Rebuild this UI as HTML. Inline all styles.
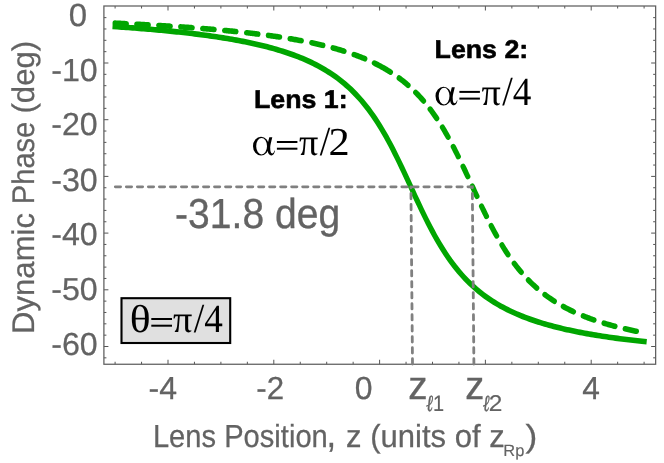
<!DOCTYPE html>
<html><head><meta charset="utf-8"><title>Dynamic Phase vs Lens Position</title>
<style>
html,body{margin:0;padding:0;background:#fff;}
body{width:664px;height:463px;overflow:hidden;font-family:"Liberation Sans",sans-serif;}
svg{display:block;will-change:transform;}
text{font-kerning:none;text-rendering:geometricPrecision;}
</style></head>
<body>
<svg width="664" height="463" viewBox="0 0 664 463">
<rect x="0" y="0" width="664" height="463" fill="#ffffff"/>
<path d="M115.10,364.25 v-2.5 M115.10,6.0 v2.5 M141.55,364.25 v-2.5 M141.55,6.0 v2.5 M168.00,364.25 v-4.5 M168.00,6.0 v4.5 M194.45,364.25 v-2.5 M194.45,6.0 v2.5 M220.90,364.25 v-2.5 M220.90,6.0 v2.5 M247.35,364.25 v-2.5 M247.35,6.0 v2.5 M273.80,364.25 v-4.5 M273.80,6.0 v4.5 M300.25,364.25 v-2.5 M300.25,6.0 v2.5 M326.70,364.25 v-2.5 M326.70,6.0 v2.5 M353.15,364.25 v-2.5 M353.15,6.0 v2.5 M379.60,364.25 v-4.5 M379.60,6.0 v4.5 M406.05,364.25 v-2.5 M406.05,6.0 v2.5 M432.50,364.25 v-2.5 M432.50,6.0 v2.5 M458.95,364.25 v-2.5 M458.95,6.0 v2.5 M485.40,364.25 v-4.5 M485.40,6.0 v4.5 M511.85,364.25 v-2.5 M511.85,6.0 v2.5 M538.30,364.25 v-2.5 M538.30,6.0 v2.5 M564.75,364.25 v-2.5 M564.75,6.0 v2.5 M591.20,364.25 v-4.5 M591.20,6.0 v4.5 M617.65,364.25 v-2.5 M617.65,6.0 v2.5 M644.10,364.25 v-2.5 M644.10,6.0 v2.5 M103.9,17.64 h2.5 M655.65,17.64 h-2.5 M103.9,28.98 h2.5 M655.65,28.98 h-2.5 M103.9,40.32 h2.5 M655.65,40.32 h-2.5 M103.9,51.66 h2.5 M655.65,51.66 h-2.5 M103.9,63.00 h4.5 M655.65,63.00 h-4.5 M103.9,74.34 h2.5 M655.65,74.34 h-2.5 M103.9,85.68 h2.5 M655.65,85.68 h-2.5 M103.9,97.02 h2.5 M655.65,97.02 h-2.5 M103.9,108.36 h2.5 M655.65,108.36 h-2.5 M103.9,119.70 h4.5 M655.65,119.70 h-4.5 M103.9,131.04 h2.5 M655.65,131.04 h-2.5 M103.9,142.38 h2.5 M655.65,142.38 h-2.5 M103.9,153.72 h2.5 M655.65,153.72 h-2.5 M103.9,165.06 h2.5 M655.65,165.06 h-2.5 M103.9,176.40 h4.5 M655.65,176.40 h-4.5 M103.9,187.74 h2.5 M655.65,187.74 h-2.5 M103.9,199.08 h2.5 M655.65,199.08 h-2.5 M103.9,210.42 h2.5 M655.65,210.42 h-2.5 M103.9,221.76 h2.5 M655.65,221.76 h-2.5 M103.9,233.10 h4.5 M655.65,233.10 h-4.5 M103.9,244.44 h2.5 M655.65,244.44 h-2.5 M103.9,255.78 h2.5 M655.65,255.78 h-2.5 M103.9,267.12 h2.5 M655.65,267.12 h-2.5 M103.9,278.46 h2.5 M655.65,278.46 h-2.5 M103.9,289.80 h4.5 M655.65,289.80 h-4.5 M103.9,301.14 h2.5 M655.65,301.14 h-2.5 M103.9,312.48 h2.5 M655.65,312.48 h-2.5 M103.9,323.82 h2.5 M655.65,323.82 h-2.5 M103.9,335.16 h2.5 M655.65,335.16 h-2.5 M103.9,346.50 h4.5 M655.65,346.50 h-4.5 M103.9,357.84 h2.5 M655.65,357.84 h-2.5" stroke="#4c4c4c" stroke-width="0.95" fill="none"/>
<rect x="103.9" y="6.0" width="551.75" height="358.25" fill="none" stroke="#5e5e5e" stroke-width="1.25"/>
<g transform="scale(1,1.08)">
<path d="M115.10,21.46 L116.16,21.51 L117.22,21.55 L118.27,21.60 L119.33,21.65 L120.39,21.69 L121.45,21.74 L122.51,21.79 L123.56,21.83 L124.62,21.88 L125.68,21.93 L126.34,21.96 M136.79,22.45 L137.85,22.51 L138.91,22.56 L139.96,22.61 L141.02,22.66 L142.08,22.72 L143.14,22.77 L144.20,22.82 L145.25,22.88 L146.31,22.93 L147.37,22.99 L148.29,23.03 M158.74,23.60 L159.80,23.66 L160.86,23.72 L161.92,23.78 L162.97,23.84 L164.03,23.90 L165.09,23.96 L166.15,24.02 L167.21,24.08 L168.26,24.14 L169.32,24.20 L170.25,24.26 M180.70,24.91 L181.75,24.97 L182.81,25.04 L183.87,25.11 L184.93,25.18 L185.99,25.25 L187.04,25.32 L188.10,25.39 L189.16,25.46 L190.22,25.53 L191.28,25.61 L192.20,25.67 M202.65,26.42 L203.71,26.50 L204.77,26.58 L205.82,26.66 L206.88,26.74 L207.94,26.82 L209.00,26.90 L210.06,26.99 L211.11,27.07 L212.17,27.15 L213.23,27.24 L214.16,27.31 M224.60,28.19 L225.66,28.29 L226.72,28.38 L227.78,28.47 L228.84,28.57 L229.89,28.67 L230.95,28.76 L232.01,28.86 L233.07,28.96 L234.13,29.06 L235.18,29.16 L235.98,29.23 M246.56,30.29 L247.61,30.40 L248.67,30.52 L249.73,30.63 L250.79,30.74 L251.85,30.86 L252.90,30.97 L253.96,31.09 L255.02,31.21 L256.08,31.33 L257.14,31.45 L257.93,31.54 M268.38,32.80 L269.44,32.94 L270.49,33.07 L271.55,33.21 L272.61,33.35 L273.67,33.49 L274.73,33.63 L275.78,33.77 L276.84,33.92 L277.90,34.06 L278.96,34.21 L279.62,34.30 M290.07,35.85 L291.12,36.01 L292.18,36.18 L293.24,36.35 L294.30,36.52 L295.36,36.70 L296.41,36.87 L297.47,37.05 L298.53,37.23 L299.59,37.41 L300.65,37.59 L301.31,37.71 M311.76,39.65 L312.81,39.85 L313.87,40.07 L314.93,40.28 L315.99,40.50 L317.05,40.72 L318.10,40.94 L319.16,41.16 L320.22,41.39 L321.28,41.62 L322.34,41.85 L322.86,41.97 M333.05,44.39 L334.11,44.66 L335.16,44.94 L336.22,45.21 L337.28,45.49 L338.34,45.78 L339.40,46.06 L340.45,46.36 L341.51,46.65 L342.57,46.95 L343.63,47.26 L344.02,47.37 M354.08,50.51 L355.13,50.87 L356.19,51.23 L357.25,51.60 L358.31,51.97 L359.37,52.35 L360.42,52.73 L361.48,53.12 L362.54,53.52 L363.60,53.92 L364.66,54.33 L364.79,54.38 M374.31,58.39 L375.37,58.87 L376.43,59.36 L377.48,59.86 L378.54,60.37 L379.60,60.88 L380.66,61.41 L381.72,61.94 L382.77,62.49 L383.83,63.04 L384.89,63.60 L385.95,64.18 L387.01,64.76 L388.06,65.36 L389.12,65.96 L390.18,66.58 L390.44,66.73 M399.17,72.30 L400.23,73.03 L401.29,73.78 L402.35,74.55 L403.41,75.32 L404.46,76.12 L405.52,76.93 L406.58,77.75 L407.64,78.59 L408.03,78.91 M415.70,85.58 L416.76,86.58 L417.82,87.60 L418.88,88.64 L419.94,89.70 L420.99,90.78 L422.05,91.88 L423.11,93.01 L423.51,93.44 M430.12,101.05 L431.18,102.36 L432.24,103.70 L433.29,105.06 L434.35,106.44 L435.41,107.86 L436.47,109.29 L436.73,109.66 M442.42,117.90 L443.48,119.52 L444.53,121.17 L445.59,122.85 L446.65,124.55 L447.71,126.28 L448.11,126.94 M453.26,135.79 L454.32,137.69 L455.38,139.60 L456.44,141.54 L457.50,143.49 L458.29,144.98 M463.05,154.09 L464.11,156.16 L465.17,158.24 L466.22,160.33 L467.28,162.43 L467.81,163.48 M472.31,172.50 L473.37,174.63 L474.42,176.75 L475.48,178.87 L476.54,180.99 L476.94,181.78 M481.56,190.94 L482.62,192.99 L483.68,195.04 L484.74,197.07 L485.80,199.08 L486.46,200.32 M491.22,209.06 L492.28,210.94 L493.34,212.79 L494.39,214.62 L495.45,216.42 L496.51,218.20 L496.64,218.42 M501.93,226.88 L502.99,228.49 L504.05,230.08 L505.11,231.63 L506.16,233.16 L507.22,234.66 L508.01,235.77 M514.23,243.92 L515.29,245.22 L516.35,246.49 L517.40,247.74 L518.46,248.96 L519.52,250.16 L520.58,251.34 L521.24,252.06 M528.38,259.33 L529.44,260.32 L530.50,261.30 L531.56,262.26 L532.61,263.19 L533.67,264.11 L534.73,265.01 L535.79,265.90 L536.71,266.66 M544.91,272.84 L545.97,273.58 L547.03,274.29 L548.09,275.00 L549.14,275.69 L550.20,276.37 L551.26,277.04 L552.32,277.70 L553.38,278.34 L554.30,278.89 M563.30,283.84 L564.35,284.37 L565.41,284.90 L566.47,285.41 L567.53,285.92 L568.59,286.42 L569.64,286.91 L570.70,287.39 L571.76,287.87 L572.82,288.33 L573.48,288.62 M583.26,292.56 L584.32,292.95 L585.38,293.33 L586.44,293.71 L587.50,294.09 L588.55,294.46 L589.61,294.82 L590.67,295.18 L591.73,295.53 L592.79,295.88 L593.85,296.22 L593.98,296.26 M604.03,299.27 L605.09,299.57 L606.14,299.86 L607.20,300.14 L608.26,300.43 L609.32,300.70 L610.38,300.98 L611.43,301.25 L612.49,301.52 L613.55,301.78 L614.61,302.04 L615.00,302.14 M625.19,304.47 L626.25,304.70 L627.30,304.92 L628.36,305.14 L629.42,305.36 L630.48,305.58 L631.54,305.79 L632.59,306.00 L633.65,306.21 L634.71,306.42 L635.77,306.62 L636.43,306.74" stroke="#00a600" stroke-width="5.2" stroke-linecap="round" stroke-linejoin="round" fill="none"/>
<path d="M115.10,24.66 L117.30,24.80 L119.51,24.94 L121.71,25.08 L123.92,25.23 L126.12,25.38 L128.33,25.53 L130.53,25.68 L132.73,25.83 L134.94,25.99 L137.14,26.14 L139.35,26.31 L141.55,26.47 L143.75,26.64 L145.96,26.80 L148.16,26.98 L150.37,27.15 L152.57,27.33 L154.78,27.51 L156.98,27.69 L159.18,27.88 L161.39,28.06 L163.59,28.26 L165.80,28.45 L168.00,28.65 L170.20,28.85 L172.41,29.06 L174.61,29.27 L176.82,29.48 L179.02,29.70 L181.23,29.92 L183.43,30.15 L185.63,30.38 L187.84,30.61 L190.04,30.85 L192.25,31.09 L194.45,31.34 L196.65,31.59 L198.86,31.85 L201.06,32.11 L203.27,32.38 L205.47,32.66 L207.68,32.93 L209.88,33.22 L212.08,33.51 L214.29,33.81 L216.49,34.11 L218.70,34.42 L220.90,34.73 L223.10,35.06 L225.31,35.39 L227.51,35.72 L229.72,36.07 L231.92,36.42 L234.13,36.78 L236.33,37.15 L238.53,37.53 L240.74,37.91 L242.94,38.31 L245.15,38.72 L247.35,39.13 L249.55,39.56 L251.76,39.99 L253.96,40.44 L256.17,40.90 L258.37,41.37 L260.58,41.85 L262.78,42.35 L264.98,42.86 L267.19,43.38 L269.39,43.92 L271.60,44.47 L273.80,45.04 L276.00,45.62 L278.21,46.22 L280.41,46.84 L282.62,47.47 L284.82,48.13 L287.03,48.80 L289.23,49.50 L291.43,50.21 L293.64,50.95 L295.84,51.72 L298.05,52.50 L300.25,53.32 L302.45,54.16 L304.66,55.03 L306.86,55.92 L309.07,56.85 L311.27,57.81 L313.48,58.80 L315.68,59.83 L317.88,60.90 L320.09,62.01 L322.29,63.15 L324.50,64.34 L326.70,65.58 L328.90,66.86 L331.11,68.19 L333.31,69.57 L335.52,71.01 L337.72,72.50 L339.93,74.06 L342.13,75.68 L344.33,77.36 L346.54,79.12 L348.74,80.95 L350.95,82.85 L353.15,84.84 L355.35,86.91 L357.56,89.07 L359.76,91.32 L361.97,93.66 L364.17,96.11 L366.38,98.66 L368.58,101.31 L370.78,104.08 L372.99,106.95 L375.19,109.95 L377.40,113.06 L379.60,116.29 L381.80,119.64 L384.01,123.11 L386.21,126.70 L388.42,130.40 L390.62,134.22 L392.83,138.14 L395.03,142.17 L397.23,146.28 L399.44,150.48 L401.64,154.75 L403.85,159.09 L406.05,163.46 L408.25,167.87 L410.46,172.30 L412.66,176.73 L414.87,181.15 L417.07,185.53 L419.28,189.88 L421.48,194.17 L423.68,198.39 L425.89,202.53 L428.09,206.58 L430.30,210.53 L432.50,214.37 L434.70,218.11 L436.91,221.73 L439.11,225.23 L441.32,228.61 L443.52,231.87 L445.73,235.01 L447.93,238.04 L450.13,240.95 L452.34,243.74 L454.54,246.43 L456.75,249.00 L458.95,251.47 L461.15,253.85 L463.36,256.12 L465.56,258.30 L467.77,260.40 L469.97,262.40 L472.18,264.33 L474.38,266.18 L476.58,267.95 L478.79,269.66 L480.99,271.29 L483.20,272.87 L485.40,274.38 L487.60,275.83 L489.81,277.23 L492.01,278.57 L494.22,279.87 L496.42,281.11 L498.62,282.31 L500.83,283.47 L503.03,284.59 L505.24,285.66 L507.44,286.70 L509.65,287.70 L511.85,288.67 L514.05,289.61 L516.26,290.51 L518.46,291.39 L520.67,292.24 L522.87,293.06 L525.08,293.85 L527.28,294.62 L529.48,295.37 L531.69,296.09 L533.89,296.79 L536.10,297.47 L538.30,298.13 L540.50,298.77 L542.71,299.39 L544.91,300.00 L547.12,300.59 L549.32,301.16 L551.52,301.71 L553.73,302.25 L555.93,302.78 L558.14,303.29 L560.34,303.79 L562.55,304.28 L564.75,304.75 L566.95,305.21 L569.16,305.66 L571.36,306.10 L573.57,306.53 L575.77,306.95 L577.98,307.36 L580.18,307.76 L582.38,308.15 L584.59,308.53 L586.79,308.90 L589.00,309.26 L591.20,309.61 L593.40,309.96 L595.61,310.30 L597.81,310.63 L600.02,310.96 L602.22,311.27 L604.42,311.58 L606.63,311.89 L608.83,312.19 L611.04,312.48 L613.24,312.77 L615.45,313.05 L617.65,313.32 L619.85,313.59 L622.06,313.85 L624.26,314.11 L626.47,314.37 L628.67,314.61 L630.88,314.86 L633.08,315.10 L635.28,315.33 L637.49,315.56 L639.69,315.79 L641.90,316.01 L644.10,316.23" stroke="#00a600" stroke-width="5.2" stroke-linecap="square" fill="none"/>
</g>
<path d="M115.3,186.8 L472.3,186.8 L473.9,364.25" stroke="#808080" stroke-width="2.8" stroke-linecap="round" stroke-linejoin="miter" stroke-dasharray="5.3 5.72" fill="none"/>
<path d="M410.9,186.8 L412.5,364.25" stroke-dashoffset="4.36" stroke="#808080" stroke-width="2.8" stroke-linecap="round" stroke-linejoin="miter" stroke-dasharray="5.3 5.72" fill="none"/>
<text transform="translate(68.81,25.70) scale(0.3305,0.3198)" font-size="100" font-family='"Liberation Sans", sans-serif' font-weight="normal" fill="#636363" stroke="#636363" stroke-width="0.8">0</text>
<text transform="translate(51.17,80.50) scale(0.3224,0.3183)" font-size="100" font-family='"Liberation Sans", sans-serif' font-weight="normal" fill="#636363" stroke="#636363" stroke-width="0.8">-10</text>
<text transform="translate(51.17,135.40) scale(0.3224,0.3183)" font-size="100" font-family='"Liberation Sans", sans-serif' font-weight="normal" fill="#636363" stroke="#636363" stroke-width="0.8">-20</text>
<text transform="translate(51.17,190.50) scale(0.3224,0.3212)" font-size="100" font-family='"Liberation Sans", sans-serif' font-weight="normal" fill="#636363" stroke="#636363" stroke-width="0.8">-30</text>
<text transform="translate(51.17,245.20) scale(0.3224,0.3183)" font-size="100" font-family='"Liberation Sans", sans-serif' font-weight="normal" fill="#636363" stroke="#636363" stroke-width="0.8">-40</text>
<text transform="translate(51.17,300.10) scale(0.3224,0.3169)" font-size="100" font-family='"Liberation Sans", sans-serif' font-weight="normal" fill="#636363" stroke="#636363" stroke-width="0.8">-50</text>
<text transform="translate(51.17,355.10) scale(0.3224,0.3183)" font-size="100" font-family='"Liberation Sans", sans-serif' font-weight="normal" fill="#636363" stroke="#636363" stroke-width="0.8">-60</text>
<text transform="translate(148.58,398.80) scale(0.3201,0.3183)" font-size="100" font-family='"Liberation Sans", sans-serif' font-weight="normal" fill="#636363" stroke="#636363" stroke-width="0.8">-4</text>
<text transform="translate(256.31,398.80) scale(0.3122,0.3183)" font-size="100" font-family='"Liberation Sans", sans-serif' font-weight="normal" fill="#636363" stroke="#636363" stroke-width="0.8">-2</text>
<text transform="translate(354.65,398.80) scale(0.3201,0.3183)" font-size="100" font-family='"Liberation Sans", sans-serif' font-weight="normal" fill="#636363" stroke="#636363" stroke-width="0.8">0</text>
<text transform="translate(582.27,398.80) scale(0.3175,0.3183)" font-size="100" font-family='"Liberation Sans", sans-serif' font-weight="normal" fill="#636363" stroke="#636363" stroke-width="0.8">4</text>
<text transform="translate(408.34,398.90) scale(0.3857,0.3994)" font-size="100" font-family='"Liberation Sans", sans-serif' font-weight="normal" fill="#636363" stroke="#636363" stroke-width="0.8">z</text>
<text transform="translate(465.26,398.90) scale(0.3808,0.3994)" font-size="100" font-family='"Liberation Sans", sans-serif' font-weight="normal" fill="#636363" stroke="#636363" stroke-width="0.8">z</text>
<text transform="translate(426.37,410.68) scale(0.1611,0.2295)" font-size="100" font-family='"Liberation Serif", serif' font-weight="normal" font-style="italic" fill="#636363" stroke="#636363" stroke-width="2.2">ℓ</text>
<text transform="translate(432.98,410.80) scale(0.1995,0.2253)" font-size="100" font-family='"Liberation Sans", sans-serif' font-weight="normal" fill="#636363" stroke="#636363" stroke-width="0.8">1</text>
<text transform="translate(482.98,410.68) scale(0.1560,0.2295)" font-size="100" font-family='"Liberation Serif", serif' font-weight="normal" font-style="italic" fill="#636363" stroke="#636363" stroke-width="2.2">ℓ</text>
<text transform="translate(488.77,410.80) scale(0.2437,0.2277)" font-size="100" font-family='"Liberation Sans", sans-serif' font-weight="normal" fill="#636363" stroke="#636363" stroke-width="0.8">2</text>
<text transform="translate(152.91,446.80) scale(0.2913,0.3198)" font-size="100" font-family='"Liberation Sans", sans-serif' font-weight="normal" fill="#636363" stroke="#636363" stroke-width="0.8">Lens Position</text>
<text transform="translate(326.49,447.41) scale(0.3464,0.3747)" font-size="100" font-family='"Liberation Sans", sans-serif' font-weight="normal" fill="#636363" stroke="#636363" stroke-width="0.8">,</text>
<text transform="translate(346.04,446.80) scale(0.3102,0.3198)" font-size="100" font-family='"Liberation Sans", sans-serif' font-weight="normal" fill="#636363" stroke="#636363" stroke-width="0.8">z (units of z</text>
<text transform="translate(503.36,455.90) scale(0.1637,0.1642)" font-size="100" font-family='"Liberation Sans", sans-serif' font-weight="normal" fill="#636363" stroke="#636363" stroke-width="0.8">Rp</text>
<text transform="translate(525.49,446.80) scale(0.3545,0.3198)" font-size="100" font-family='"Liberation Sans", sans-serif' font-weight="normal" fill="#636363" stroke="#636363" stroke-width="0.8">)</text>
<text transform="translate(34.30,333.95) rotate(-90) scale(0.3110,0.3125)" font-size="100" font-family='"Liberation Sans", sans-serif' font-weight="normal" fill="#636363" stroke="#636363" stroke-width="0.8">Dynamic</text>
<text transform="translate(34.20,204.19) rotate(-90) scale(0.2909,0.3125)" font-size="100" font-family='"Liberation Sans", sans-serif' font-weight="normal" fill="#636363" stroke="#636363" stroke-width="0.8">Phase</text>
<text transform="translate(34.00,113.53) rotate(-90) scale(0.3112,0.3125)" font-size="100" font-family='"Liberation Sans", sans-serif' font-weight="normal" fill="#636363" stroke="#636363" stroke-width="0.8">(deg)</text>
<text transform="translate(253.91,108.10) scale(0.2675,0.2558)" font-size="100" font-family='"Liberation Sans", sans-serif' font-weight="bold" fill="#000" stroke="#000" stroke-width="2.2" stroke-linejoin="round">Lens 1:</text>
<text transform="translate(434.61,57.70) scale(0.2672,0.2558)" font-size="100" font-family='"Liberation Sans", sans-serif' font-weight="bold" fill="#000" stroke="#000" stroke-width="2.2" stroke-linejoin="round">Lens 2:</text>
<text transform="translate(175.06,228.00) scale(0.3908,0.4201)" font-size="100" font-family='"Liberation Sans", sans-serif' font-weight="normal" fill="#636363" stroke="#636363" stroke-width="0.8">-31.8 deg</text>
<rect x="121.5" y="298.2" width="108.7" height="44.8" fill="#e0e0e0" stroke="#000" stroke-width="2.1"/>
<g transform="translate(253.00,155.00)" fill="#000"><title>α</title><path fill-rule="evenodd" d="M0.00,-8.80 a8.0,9.4 0 1,0 16.0,0 a8.0,9.4 0 1,0 -16.0,0 Z M3.20,-8.80 a5.4,8.3 0 1,0 10.8,0 a5.4,8.3 0 1,0 -10.8,0 Z"/><path d="M16.3,-17.7 L19.3,-17.7 C18.2,-13 17.2,-10 17.2,-7.5 C17.2,-4 17.8,-1.6 19.2,-1.6 C20.2,-1.6 20.9,-2.8 21.5,-4.6 L22.0,-4.3 C21.3,-1.5 20.2,0.4 18.6,0.4 C15.6,0.4 14.4,-3 14.4,-7.5 C14.4,-10.5 15.2,-13.5 16.3,-17.7 Z"/></g>
<rect x="276.90" y="141.00" width="20.50" height="2.0" fill="#000"/>
<rect x="276.90" y="147.70" width="20.50" height="2.0" fill="#000"/>
<text transform="translate(298.88,155.13) scale(0.3823,0.3797)" font-size="100" font-family='"Liberation Serif", serif' font-weight="normal" fill="#000">π</text>
<text transform="translate(319.70,155.10) scale(0.3779,0.4141)" font-size="100" font-family='"Liberation Serif", serif' font-weight="normal" fill="#000">/</text>
<text transform="translate(328.44,155.00) scale(0.4241,0.3957)" font-size="100" font-family='"Liberation Serif", serif' font-weight="normal" fill="#000">2</text>
<g transform="translate(435.50,104.90)" fill="#000"><title>α</title><path fill-rule="evenodd" d="M0.00,-8.80 a8.0,9.4 0 1,0 16.0,0 a8.0,9.4 0 1,0 -16.0,0 Z M3.20,-8.80 a5.4,8.3 0 1,0 10.8,0 a5.4,8.3 0 1,0 -10.8,0 Z"/><path d="M16.3,-17.7 L19.3,-17.7 C18.2,-13 17.2,-10 17.2,-7.5 C17.2,-4 17.8,-1.6 19.2,-1.6 C20.2,-1.6 20.9,-2.8 21.5,-4.6 L22.0,-4.3 C21.3,-1.5 20.2,0.4 18.6,0.4 C15.6,0.4 14.4,-3 14.4,-7.5 C14.4,-10.5 15.2,-13.5 16.3,-17.7 Z"/></g>
<rect x="459.40" y="90.90" width="20.50" height="2.0" fill="#000"/>
<rect x="459.40" y="97.60" width="20.50" height="2.0" fill="#000"/>
<text transform="translate(481.38,105.03) scale(0.3823,0.3797)" font-size="100" font-family='"Liberation Serif", serif' font-weight="normal" fill="#000">π</text>
<text transform="translate(502.20,105.00) scale(0.3779,0.4141)" font-size="100" font-family='"Liberation Serif", serif' font-weight="normal" fill="#000">/</text>
<text transform="translate(512.87,104.90) scale(0.3722,0.3981)" font-size="100" font-family='"Liberation Serif", serif' font-weight="normal" fill="#000">4</text>
<text transform="translate(129.85,332.12) scale(0.4363,0.3893)" font-size="100" font-family='"Liberation Serif", serif' font-weight="normal" fill="#000">θ</text>
<rect x="151.30" y="318.00" width="20.70" height="2.0" fill="#000"/>
<rect x="151.30" y="324.70" width="20.70" height="2.0" fill="#000"/>
<text transform="translate(172.88,332.13) scale(0.3823,0.3797)" font-size="100" font-family='"Liberation Serif", serif' font-weight="normal" fill="#000">π</text>
<text transform="translate(193.70,332.10) scale(0.3779,0.4141)" font-size="100" font-family='"Liberation Serif", serif' font-weight="normal" fill="#000">/</text>
<text transform="translate(204.37,332.00) scale(0.3722,0.3981)" font-size="100" font-family='"Liberation Serif", serif' font-weight="normal" fill="#000">4</text>
</svg>
</body></html>
